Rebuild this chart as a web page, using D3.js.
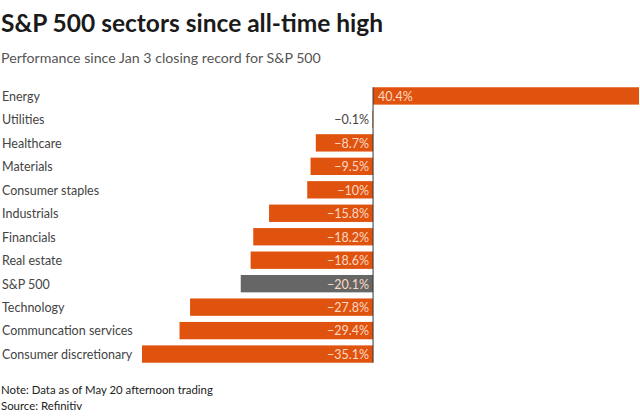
<!DOCTYPE html>
<html><head><meta charset="utf-8">
<script src="https://cdn.jsdelivr.net/npm/d3@7"></script>
<style>body{margin:0;background:#fff;} svg{display:block;}</style>
</head><body>
<script>
const categories = ["Energy","Utilities","Healthcare","Materials","Consumer staples","Industrials","Financials","Real estate","S&P 500","Technology","Communcation services","Consumer discretionary"];
const values = [40.4,-0.1,-8.7,-9.5,-10,-15.8,-18.2,-18.6,-20.1,-27.8,-29.4,-35.1];
const labels = ["40.4%","\u22120.1%","\u22128.7%","\u22129.5%","\u221210%","\u221215.8%","\u221218.2%","\u221218.6%","\u221220.1%","\u221227.8%","\u221229.4%","\u221235.1%"];
const highlight = ["S&P 500"];

const W=640,H=416;
const font = "'Source Sans Pro','Lato','Noto Sans',sans-serif";
const svg = d3.select("body").append("svg").attr("width",W).attr("height",H);

svg.append("text").attr("x",1).attr("y",32).attr("font-family",font).attr("font-weight",700)
  .attr("font-size",24.5).attr("fill","#1a1a1a").text("S&P 500 sectors since all-time high");
svg.append("text").attr("x",1).attr("y",63).attr("font-family",font)
  .attr("font-size",14.2).attr("fill","#555").text("Performance since Jan 3 closing record for S&P 500");

const x = d3.scaleLinear().domain([-35.1,40.4]).range([142,639]);
const y = d3.scaleBand().domain(categories).range([84.2,365.8]).paddingInner(0.26).paddingOuter(0.13);

const data = categories.map((c,i)=>({c,v:values[i],l:labels[i]}));

svg.append("g").selectAll("text").data(data).join("text")
  .attr("x",2).attr("y",d=>y(d.c)+y.bandwidth()/2+0.5).attr("dy","0.35em")
  .attr("font-family",font).attr("font-size",12.5).attr("fill","#444").text(d=>d.c);

svg.append("g").selectAll("rect").data(data).join("rect")
  .attr("x",d=>x(Math.min(0,d.v))).attr("y",d=>y(d.c))
  .attr("width",d=>Math.abs(x(d.v)-x(0))).attr("height",y.bandwidth())
  .attr("fill",d=>highlight.includes(d.c)?"#666666":"#e0530f");

svg.append("line").attr("x1",x(0)).attr("x2",x(0))
  .attr("y1",y(categories[0])).attr("y2",y(categories[categories.length-1])+y.bandwidth())
  .attr("stroke","#333").attr("stroke-width",1);

svg.append("g").selectAll("text").data(data).join("text")
  .attr("x",d=>d.v>=0?x(0)+5:x(0)-4)
  .attr("text-anchor",d=>d.v>=0?"start":"end")
  .attr("y",d=>y(d.c)+y.bandwidth()/2+0.5).attr("dy","0.35em")
  .attr("font-family",font).attr("font-size",12.5)
  .attr("fill",d=>Math.abs(x(d.v)-x(0))<40?"#444":"#fbd9c4")
  .text(d=>d.l);

svg.append("text").attr("x",1).attr("y",394).attr("font-family",font)
  .attr("font-size",11.4).attr("fill","#222").text("Note: Data as of May 20 afternoon trading");
svg.append("text").attr("x",1).attr("y",410).attr("font-family",font)
  .attr("font-size",11.4).attr("fill","#222").text("Source: Refinitiv");
</script>
</body></html>
